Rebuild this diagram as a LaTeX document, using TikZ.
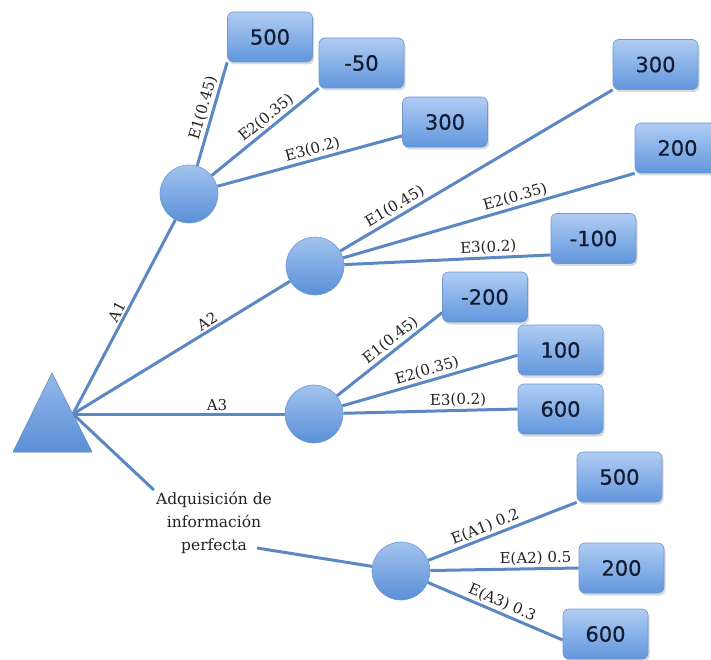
\documentclass[tikz,border=0pt]{standalone}
\usepackage{fontspec}
\setmainfont{DejaVu Serif}
\newfontfamily\numfont[FakeBold=0.6]{DejaVu Sans}
\usetikzlibrary{shadows,calc}
\pgfdeclarelayer{links}
\pgfsetlayers{links,main}
\definecolor{linkblue}{HTML}{5B87C5}
\definecolor{boxtop}{HTML}{B0CDF3}
\definecolor{boxbot}{HTML}{6196DD}
\definecolor{boxedge}{HTML}{6E99D3}
\definecolor{balltop}{HTML}{A2C3EE}
\definecolor{ballbot}{HTML}{5A8FD8}
\definecolor{numtext}{HTML}{121C33}
\definecolor{labeltext}{HTML}{222222}
\begin{document}
\begin{tikzpicture}[x=1pt,y=-1pt,
  payoff/.style={rounded corners=6pt, minimum width=85pt, minimum height=50pt,
    draw=boxedge, line width=0.6pt, top color=boxtop, bottom color=boxbot,
    font=\numfont\fontsize{21}{24}\selectfont, text=numtext,
    drop shadow={opacity=0.3, shadow xshift=1.5pt, shadow yshift=-2.5pt}},
  chance/.style={circle, minimum size=58pt, inner sep=0pt, draw=boxedge,
    line width=0.6pt, top color=balltop, bottom color=ballbot},
  link/.style={draw=linkblue, line width=3pt},
  lbl/.style={sloped, above, inner sep=2pt, text=labeltext,
    font=\fontsize{15}{16}\selectfont}]
\clip (0,0) rectangle (711,660);

% decision node
\filldraw[draw=boxedge, line width=0.6pt, top color=balltop!80!ballbot, bottom color=ballbot]
  (52,373) -- (13,452) -- (92,452) -- cycle;
\coordinate (root) at (73,414);

% chance nodes
\node[chance] (c1) at (189,194) {};
\node[chance] (c2) at (315,266) {};
\node[chance] (c3) at (314,414) {};
\node[chance] (c4) at (401,571) {};

% payoffs
\node[payoff] (b1) at (270,37) {500};
\node[payoff] (b2) at (361.5,63) {-50};
\node[payoff] (b3) at (445,122) {300};
\node[payoff] (b4) at (655.5,64.5) {300};
\node[payoff] (b5) at (677.5,148) {200};
\node[payoff] (b6) at (593.5,238.5) {-100};
\node[payoff] (b7) at (485,297) {-200};
\node[payoff] (b8) at (560.5,350) {100};
\node[payoff] (b9) at (560.5,409) {600};
\node[payoff] (b10) at (619.5,477) {500};
\node[payoff] (b11) at (621.5,568) {200};
\node[payoff] (b12) at (605.5,634) {600};

% perfect information branch
\node[align=center, inner sep=2pt, text=labeltext, font=\fontsize{15.5}{23}\selectfont]
  (info) at (214,523) {Adquisición de\\información\\perfecta};
\coordinate (infoend) at (257,548);

\begin{pgfonlayer}{links}
  \draw[link] (root) -- node[lbl, pos=0.505] {A1} (c1);
  \draw[link] (root) -- node[lbl, pos=0.64] {A2} (c2);
  \draw[link] (root) -- node[lbl, pos=0.68] {A3} (c3);
  \draw[link] (root) -- (info.north west);
  \draw[link] (infoend) -- (c4);

  \draw[link] (c1) -- node[lbl, pos=0.53] {E1(0.45)} (b1.south west);
  \draw[link] (c1) -- node[lbl, pos=0.57] {E2(0.35)} (b2.south west);
  \draw[link] (c1) -- node[lbl, pos=0.53] {E3(0.2)} (b3.198);

  \draw[link] (c2) -- node[lbl, pos=0.22] {E1(0.45)} (b4.south west);
  \draw[link] (c2) -- node[lbl, pos=0.60] {E2(0.35)} (b5.south west);
  \draw[link] (c2) -- node[lbl, pos=0.70] {E3(0.2)} (b6.201);

  \draw[link] (c3) -- node[lbl, pos=0.57] {E1(0.45)} (b7.200);
  \draw[link] (c3) -- node[lbl, pos=0.50] {E2(0.35)} (b8.187);
  \draw[link] (c3) -- node[lbl, pos=0.66] {E3(0.2)} (b9.west);

  \draw[link] (c4) -- node[lbl, pos=0.41] {E(A1) 0.2} (b10.south west);
  \draw[link] (c4) -- node[lbl, pos=0.71] {E(A2) 0.5} (b11.west);
  \draw[link] (c4) -- node[lbl, pos=0.52] {E(A3) 0.3} (b12.188);
\end{pgfonlayer}
\end{tikzpicture}
\end{document}
